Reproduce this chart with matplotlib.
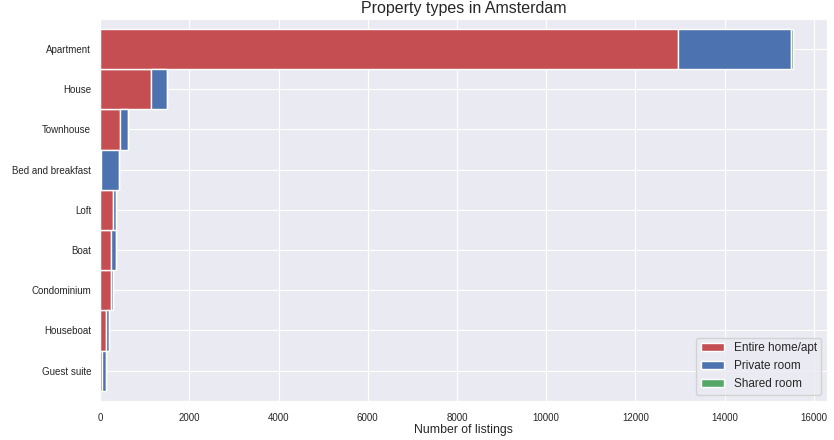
import matplotlib.pyplot as plt
import pandas as pd
import seaborn as sns

sns.set_style('darkgrid')
plt.rcParams['font.family'] = ['Liberation Sans', 'DejaVu Sans']

property_types = ['Guest suite', 'Houseboat', 'Condominium', 'Boat', 'Loft',
                  'Bed and breakfast', 'Townhouse', 'House', 'Apartment']
entire_home = [37, 142, 240, 247, 299, 25, 456, 1145, 12945]
private_room = [98, 60, 59, 112, 60, 400, 165, 352, 2547]
shared_room = [2, 1, 1, 1, 1, 3, 1, 4, 35]

df = pd.DataFrame({'Entire home/apt': entire_home,
                   'Private room': private_room,
                   'Shared room': shared_room}, index=property_types)

colors = ['#C44E52', '#4C72B0', '#55A868']

fig, ax = plt.subplots(figsize=(8.34, 4.4), dpi=100)
df.plot(kind='barh', stacked=True, width=1, color=colors, edgecolor='white',
        linewidth=1, ax=ax)
ax.set_title('Property types in Amsterdam', fontsize=11.5, pad=4)
ax.set_xlabel('Number of listings', fontsize=8.8, labelpad=1)
ax.set_ylabel('')
ax.tick_params(axis='y', labelsize=7, pad=3)
ax.tick_params(axis='x', labelsize=7, pad=5)
ax.legend(loc='lower right', fontsize=8.5, frameon=True)
fig.subplots_adjust(left=0.12, right=0.992, top=0.957, bottom=0.089)
plt.savefig('out.png', dpi=100)
